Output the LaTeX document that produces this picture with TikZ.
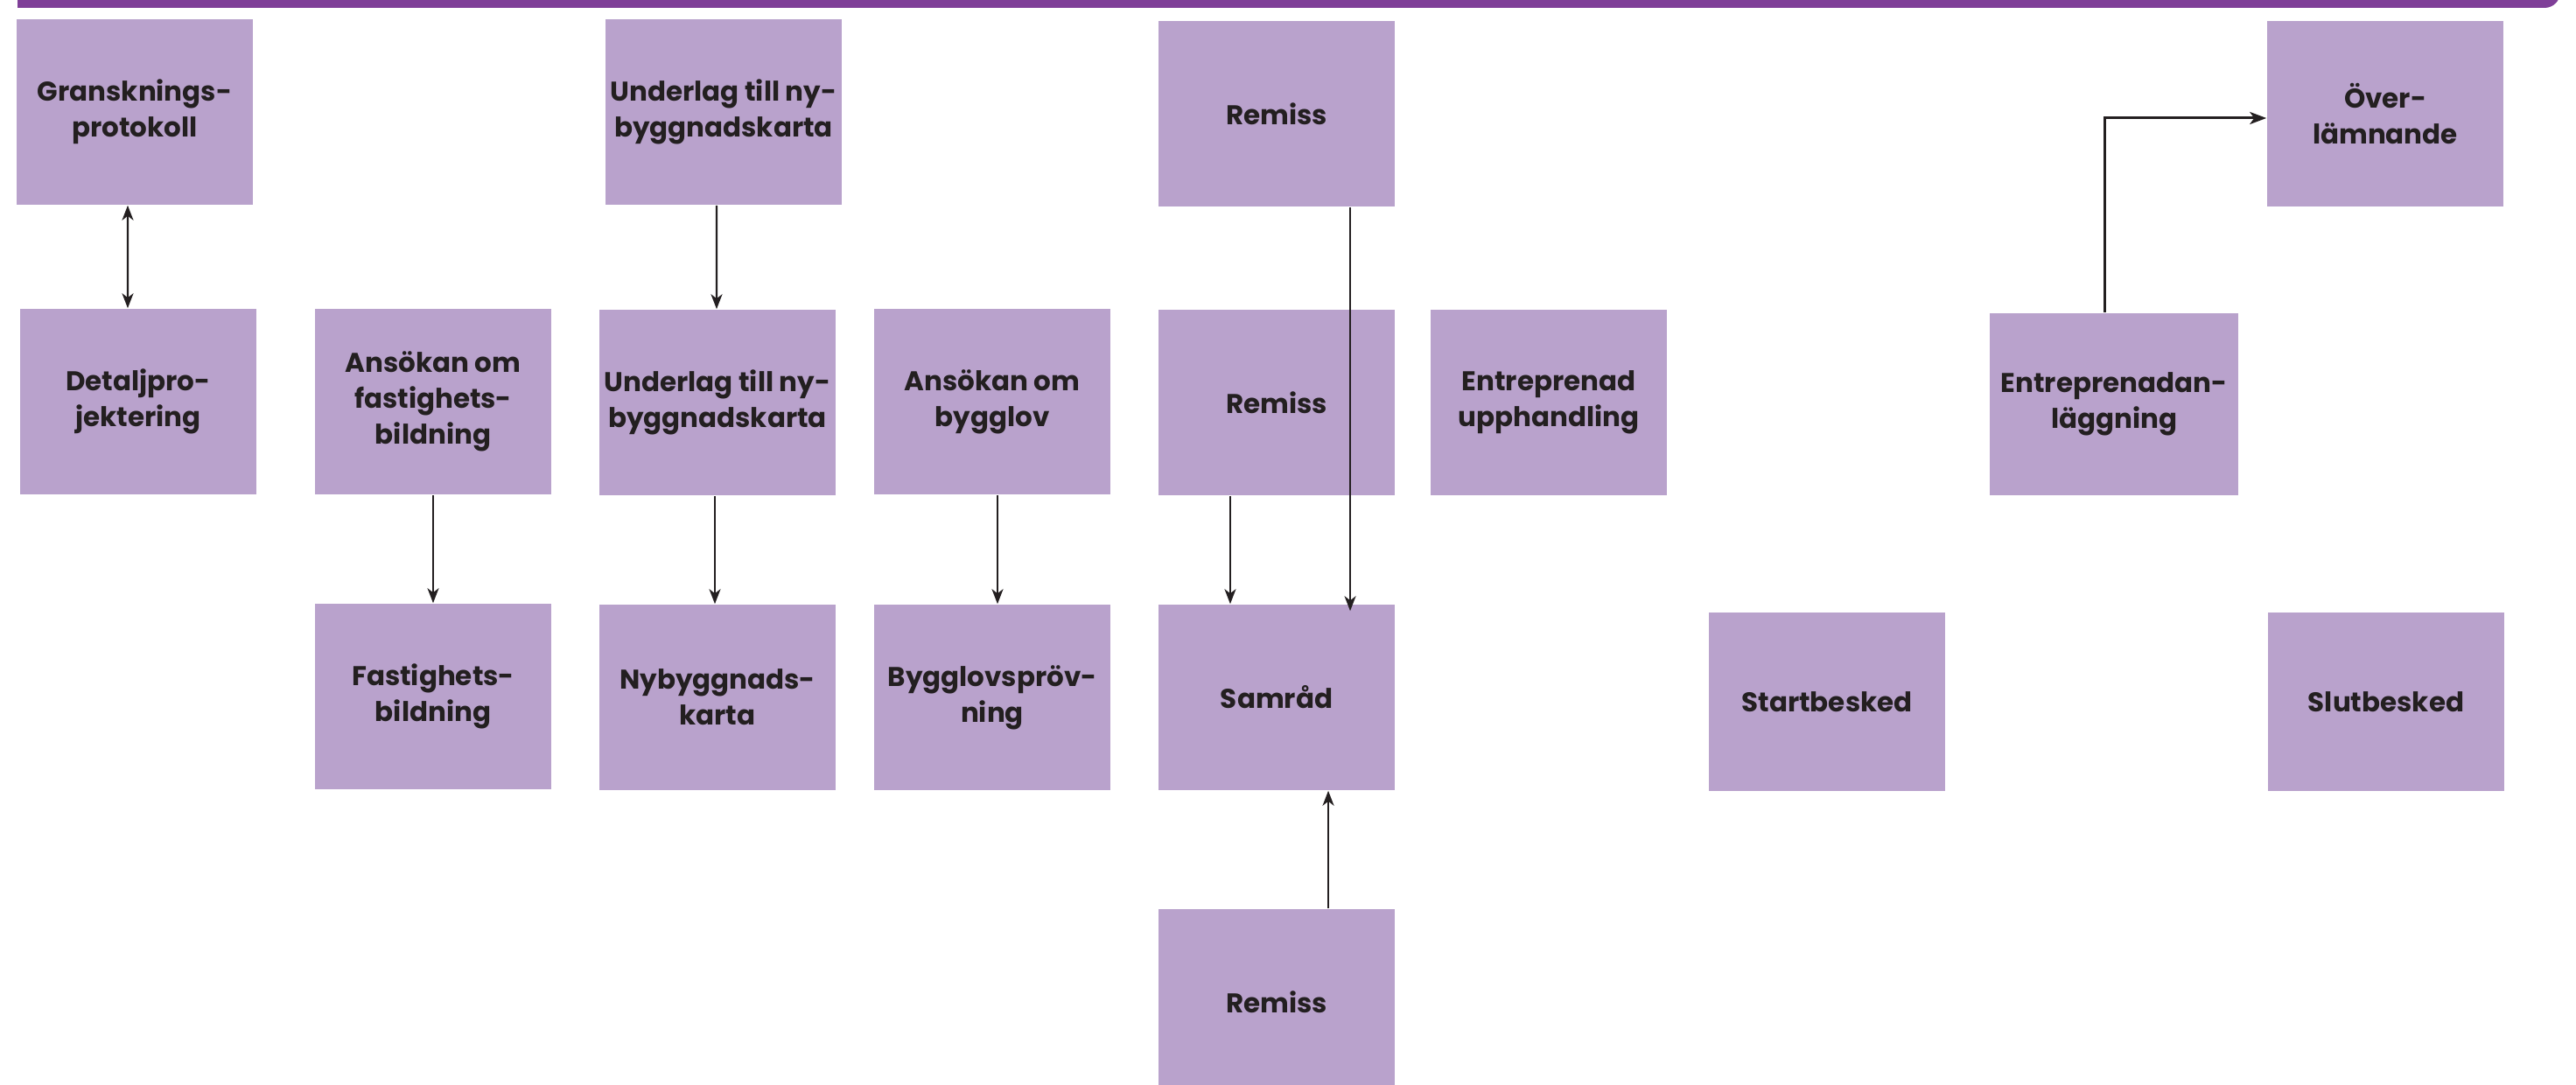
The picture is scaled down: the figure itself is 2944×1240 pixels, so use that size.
\documentclass[tikz,border=0pt]{standalone}
\usepackage{fontspec}
\setmainfont{Poppins}
\usepackage{tikz}
\usetikzlibrary{positioning,calc}
\usetikzlibrary{arrows.meta}
\definecolor{BarPurple}{RGB}{127,63,152}
\definecolor{BoxLilac}{RGB}{185,162,204}
\definecolor{InkBlack}{RGB}{35,31,32}
\tikzset{
  box/.style={rectangle,fill=BoxLilac,draw=none,minimum width=2.7cm,minimum height=2.12cm,
    align=center,inner sep=0pt,text=InkBlack,font=\bfseries\fontsize{8.8}{11.6}\selectfont},
  link/.style={draw=InkBlack,line width=0.6pt,-{Stealth[length=0.17cm,width=0.13cm,inset=0.05cm]}},
}

\begin{document}
\begin{tikzpicture}[x=0.01cm,y=-0.01cm]
\useasboundingbox (0,0) rectangle (2944,1240);
\fill[BarPurple] (20,-30) -- (20,9) [rounded corners=0.18cm] -- (2926,9) -- (2926,-30) -- cycle;
% top row
\node[box] (gransk) at (154,128) {Gransknings-\\protokoll};
\node[box] (ulag1) at (827,128) {Underlag till ny-\\byggnadskarta};
\node[box] (remiss1) at (1459,130) {Remiss};
\node[box] (over) at (2726,130) {Över-\\lämnande};
% middle row
\node[box] (detalj) at (158,459) {Detaljpro-\\jektering};
\node[box] (ansfast) at (495,459) {Ansökan om\\fastighets-\\bildning};
\node[box] (ulag2) at (820,460) {Underlag till ny-\\byggnadskarta};
\node[box] (ansbygg) at (1134,459) {Ansökan om\\bygglov};
\node[box] (remiss2) at (1459,460) {Remiss};
\node[box] (entupph) at (1770,460) {Entreprenad\\upphandling};
\node[box,minimum width=2.84cm,minimum height=2.08cm] (entanl) at (2416,462) {Entreprenadan-\\läggning};
% lower row
\node[box] (fastbild) at (495,796) {Fastighets-\\bildning};
\node[box] (nyby) at (820,797) {Nybyggnads-\\karta};
\node[box] (byggprov) at (1134,797) {Bygglovspröv-\\ning};
\node[box] (samrad) at (1459,797) {Samråd};
\node[box,minimum height=2.04cm] (start) at (2088,802) {Startbesked};
\node[box,minimum height=2.04cm] (slut) at (2727,802) {Slutbesked};
% bottom
\node[box] (remiss3) at (1459,1145) {Remiss};
% arrows
\draw[link,{Stealth[length=0.17cm,width=0.13cm,inset=0.05cm]}-{Stealth[length=0.17cm,width=0.13cm,inset=0.05cm]}] ([xshift=-0.08cm]gransk.south) -- ([xshift=-0.12cm]detalj.north);
\draw[link] ([xshift=-0.08cm]ulag1.south) -- ([xshift=-0.01cm]ulag2.north);
\draw[link] (ansfast.south) -- (fastbild.north);
\draw[link] ([xshift=-0.03cm]ulag2.south) -- ([xshift=-0.03cm]nyby.north);
\draw[link] ([xshift=0.06cm]ansbygg.south) -- ([xshift=0.06cm]byggprov.north);
\draw[link] ([xshift=-0.53cm]remiss2.south) -- ([xshift=-0.53cm]samrad.north);
\draw[link] ([xshift=0.84cm]remiss1.south) -- ([xshift=0.84cm,yshift=-0.08cm]samrad.north);
\draw[link] ([xshift=0.59cm]remiss3.north) -- ([xshift=0.59cm]samrad.south);
\draw[link,line width=0.85pt,-{Stealth[length=0.19cm,width=0.14cm,inset=0.05cm]}] ([xshift=-0.11cm]entanl.north) |- ([yshift=-0.05cm]over.west);
\end{tikzpicture}
\end{document}
